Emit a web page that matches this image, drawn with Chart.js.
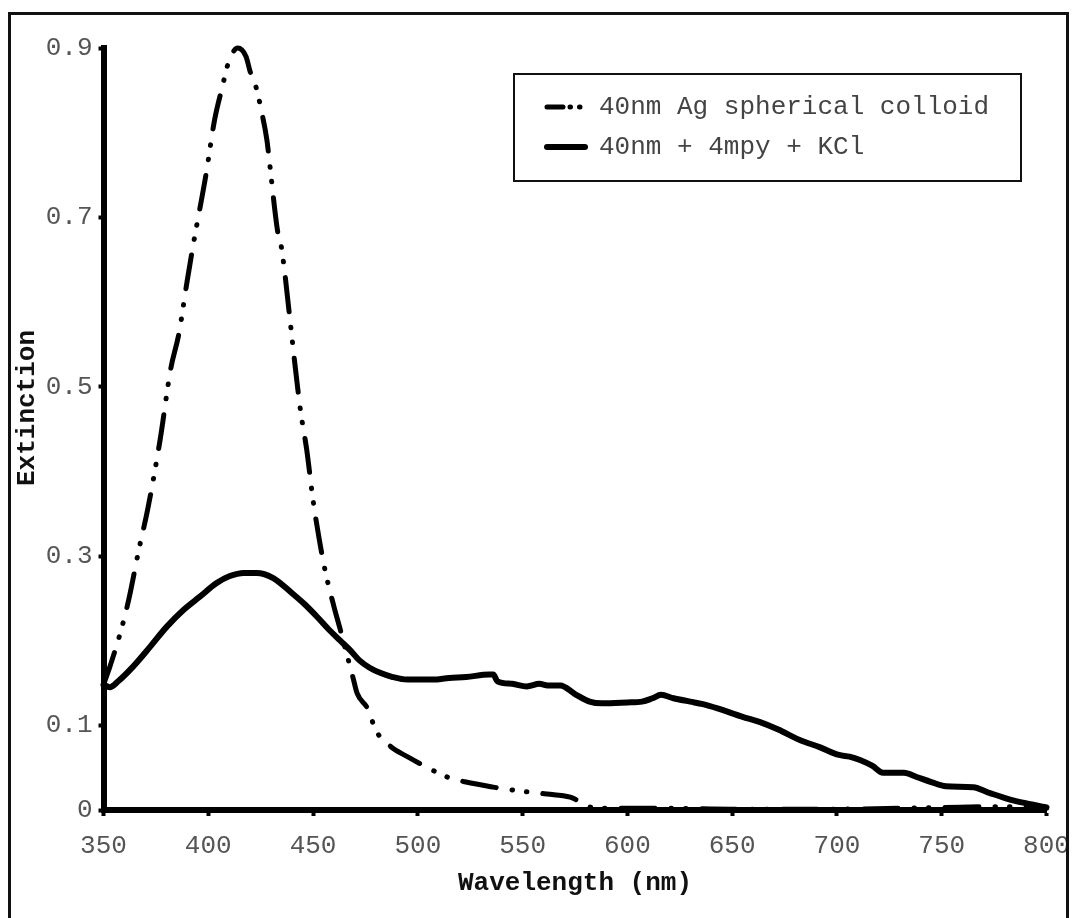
<!DOCTYPE html>
<html lang="en">
<head>
    <meta charset="UTF-8">
    <title>Extinction spectra</title>
    <style>
        body, html {
            margin: 0;
            padding: 0;
            width: 1073px;
            height: 918px;
            overflow: hidden;
            background: #fff;
        }

        #chartBox {
            position: absolute;
            left: 0;
            top: 0;
            width: 1073px;
            height: 918px;
        }

        /* thin frame round the whole figure, bottom edge runs off the page */
        #frame {
            position: absolute;
            left: 8px;
            top: 12px;
            width: 1055px;
            height: 940px;
            border: 3px solid #111;
            pointer-events: none;
        }
    </style>
</head>
<body>

<div id="chartBox">
    <canvas id="spectrumChart"></canvas>
</div>
<div id="frame"></div>

<script src="https://cdn.jsdelivr.net/npm/chart.js"></script>
<script>
    // 40nm Ag spherical colloid (wavelength nm, extinction)
    const agWavelength = [350, 353, 358, 362, 367, 371, 377, 382, 386, 390, 393, 399, 403, 407, 409, 414, 418,
        420, 423, 425, 428, 429, 433, 435, 439, 441, 444, 447, 450, 453, 456, 460, 463, 466, 469, 471, 476,
        480, 487, 495, 507, 514, 523, 536, 544, 557, 565, 574, 580, 590, 620, 650, 700, 750, 780, 800];
    const agExtinction = [0.148, 0.169, 0.209, 0.248, 0.309, 0.354, 0.437, 0.52, 0.563, 0.626, 0.67, 0.752, 0.815, 0.857, 0.878, 0.9, 0.89,
        0.872, 0.852, 0.83, 0.791, 0.77, 0.685, 0.663, 0.579, 0.534, 0.472, 0.425, 0.366, 0.319, 0.28, 0.24, 0.213, 0.185, 0.157, 0.138, 0.12,
        0.094, 0.075, 0.063, 0.047, 0.039, 0.033, 0.027, 0.024, 0.02, 0.018, 0.014, 0.005, 0.002, 0.002, 0.001, 0.001, 0.003, 0.004, 0.002];

    // 40nm + 4mpy + KCl
    const mixWavelength = [350, 353, 357, 364, 372, 380, 388, 396, 404, 410, 417, 423, 431, 440, 446, 452, 458,
        463, 468, 472, 477, 482, 488, 495, 507, 515, 523, 534, 536, 538, 545, 552, 558, 562, 568, 575, 582,
        588, 600, 607, 612, 616, 622, 630, 636, 643, 655, 663, 672, 682, 692, 701, 706, 711, 717, 722, 732,
        738, 745, 752, 765, 773, 783, 790, 798, 800];
    const mixExtinction = [0.148, 0.145, 0.152, 0.169, 0.192, 0.216, 0.236, 0.252, 0.268, 0.276, 0.28, 0.28, 0.274, 0.256, 0.243, 0.228, 0.212,
        0.2, 0.188, 0.177, 0.168, 0.162, 0.157, 0.154, 0.154, 0.156, 0.157, 0.16, 0.16, 0.152, 0.149, 0.146, 0.149, 0.147, 0.147, 0.137, 0.128,
        0.126, 0.127, 0.128, 0.132, 0.136, 0.132, 0.128, 0.125, 0.12, 0.11, 0.104, 0.095, 0.083, 0.074, 0.065, 0.063, 0.059, 0.052, 0.044, 0.044,
        0.039, 0.033, 0.028, 0.027, 0.02, 0.012, 0.008, 0.004, 0.003];

    const seriesLabels = ['40nm Ag spherical colloid', '40nm + 4mpy + KCl'];
    const yTickValues = [0, 0.1, 0.3, 0.5, 0.7, 0.9];
    const xTitle = 'Wavelength (nm)';
    const yTitle = 'Extinction';

    const monoFont = "'Courier New', 'Liberation Mono', monospace";
    const dashDot = [34, 16, 0.5, 14, 0.5, 16];

    function toPoints(xs, ys) {
        return xs.map((x, i) => ({ x: x, y: ys[i] }));
    }

    // y axis title and the boxed legend are drawn by hand
    const extrasPlugin = {
        id: 'extras',
        afterDraw(chart) {
            const ctx = chart.ctx;
            ctx.save();

            ctx.translate(27, 408);
            ctx.rotate(-Math.PI / 2);
            ctx.font = "bold 26px " + monoFont;
            ctx.fillStyle = '#111';
            ctx.textAlign = 'center';
            ctx.textBaseline = 'middle';
            ctx.fillText(yTitle, 0, 0);
            ctx.setTransform(1, 0, 0, 1, 0, 0);

            // legend box
            ctx.fillStyle = '#fff';
            ctx.fillRect(514, 74, 507, 107);
            ctx.lineWidth = 2;
            ctx.strokeStyle = '#111';
            ctx.strokeRect(514, 74, 507, 107);

            const rows = [107, 147];
            chart.data.datasets.forEach((ds, i) => {
                ctx.beginPath();
                ctx.lineWidth = ds.borderWidth;
                ctx.lineCap = 'round';
                ctx.strokeStyle = '#000';
                if (i === 0) {
                    ctx.setLineDash([16, 7, 0.5, 9, 0.5, 40]);
                } else {
                    ctx.setLineDash([]);
                }
                ctx.moveTo(547, rows[i]);
                ctx.lineTo(585, rows[i]);
                ctx.stroke();
                ctx.setLineDash([]);

                ctx.font = "26px " + monoFont;
                ctx.fillStyle = '#444';
                ctx.textAlign = 'left';
                ctx.textBaseline = 'middle';
                ctx.fillText(ds.label, 599, rows[i]);
            });

            ctx.restore();
        }
    };

    const ctx = document.getElementById('spectrumChart').getContext('2d');
    new Chart(ctx, {
        type: 'line',
        data: {
            datasets: [
                {
                    label: seriesLabels[0],
                    data: toPoints(agWavelength, agExtinction),
                    borderColor: '#000',
                    borderWidth: 5,
                    borderDash: dashDot,
                    borderCapStyle: 'round',
                    pointRadius: 0,
                    cubicInterpolationMode: 'monotone',
                    fill: false,
                    clip: false
                },
                {
                    label: seriesLabels[1],
                    data: toPoints(mixWavelength, mixExtinction),
                    borderColor: '#000',
                    borderWidth: 6,
                    borderCapStyle: 'round',
                    borderJoinStyle: 'round',
                    pointRadius: 0,
                    cubicInterpolationMode: 'monotone',
                    fill: false,
                    clip: false
                }
            ]
        },
        options: {
            responsive: true,
            maintainAspectRatio: false,
            animation: false,
            layout: {
                padding: { left: 0, top: 48, right: 26.5, bottom: 0 }
            },
            plugins: {
                legend: { display: false },
                tooltip: { enabled: false }
            },
            scales: {
                x: {
                    type: 'linear',
                    min: 350,
                    max: 800,
                    afterFit: function(scale) {
                        scale.height = 108;
                        scale.paddingLeft = 0;
                        scale.paddingRight = 0;
                    },
                    ticks: {
                        stepSize: 50,
                        padding: 15,
                        color: '#555',
                        font: { family: monoFont, size: 26 }
                    },
                    grid: {
                        display: true,
                        drawOnChartArea: false,
                        drawTicks: true,
                        tickLength: 6,
                        tickWidth: 4,
                        tickColor: '#000'
                    },
                    border: { display: true, width: 6, color: '#000' },
                    title: {
                        display: true,
                        text: xTitle,
                        color: '#111',
                        font: { family: monoFont, size: 26, weight: 'bold' },
                        padding: { top: 0, bottom: 19 }
                    }
                },
                y: {
                    min: 0,
                    max: 0.9,
                    afterFit: function(scale) {
                        scale.width = 103.5;
                        scale.paddingTop = 0;
                        scale.paddingBottom = 0;
                    },
                    afterBuildTicks: function(scale) {
                        scale.ticks = yTickValues.map(v => ({ value: v }));
                    },
                    ticks: {
                        padding: 6,
                        color: '#555',
                        font: { family: monoFont, size: 26 },
                        callback: function(value) { return value === 0 ? '0' : value.toFixed(1); }
                    },
                    grid: {
                        display: true,
                        drawOnChartArea: false,
                        drawTicks: true,
                        tickLength: 5,
                        tickWidth: 4,
                        tickColor: '#000'
                    },
                    border: { display: true, width: 6, color: '#000' }
                }
            }
        },
        plugins: [extrasPlugin]
    });
</script>

</body>
</html>
